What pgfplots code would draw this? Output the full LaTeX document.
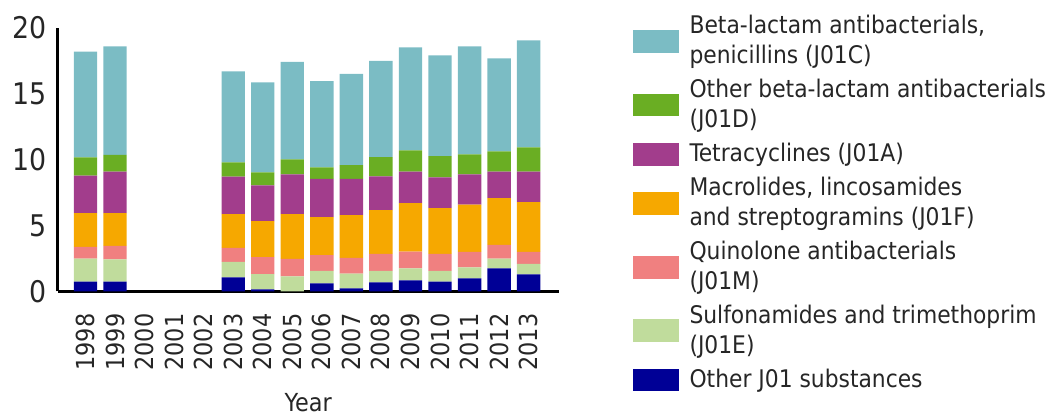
\documentclass[border=0pt]{standalone}
\usepackage{pgfplots}
\pgfplotsset{compat=1.18}
\usepackage{fontspec}
\setmainfont{DejaVu Sans Condensed}
\definecolor{cTeal}{HTML}{7BBCC4}
\definecolor{cGreen}{HTML}{6AAE23}
\definecolor{cPurple}{HTML}{A23D8C}
\definecolor{cOrange}{HTML}{F6A800}
\definecolor{cPink}{HTML}{F08080}
\definecolor{cLGreen}{HTML}{C0DC9C}
\definecolor{cNavy}{HTML}{000096}
\begin{document}
\fontsize{12.5}{15}\selectfont
\begin{tikzpicture}
\begin{axis}[
  at={(0,0)}, anchor=south west,
  scale only axis, width=252pt, height=132.5pt,
  ybar stacked, bar width=11.75pt,
  xmin=-0.94, xmax=16.02, ymin=0, ymax=20,
  xtick={0,...,15},
  xticklabels={1998,1999,2000,2001,2002,2003,2004,2005,2006,2007,2008,2009,2010,2011,2012,2013},
  ytick={0,5,10,15,20},
  major tick length=0pt,
  axis x line*=bottom, axis y line*=left,
  axis line style={line width=1.5pt, black, -},
  /pgf/number format/assume math mode=true,
  tick label style={text=black!85},
  yticklabel style={anchor=east, inner sep=0pt, xshift=-5.5pt, font=\fontsize{15}{18}\selectfont},
  xticklabel style={rotate=90, anchor=east, inner sep=0pt},
  xticklabel shift=11pt,
  xlabel={Year},
  xlabel style={at={(axis description cs:0.5,0)}, anchor=center, inner sep=0pt, yshift=-56pt, text=black!85},
  legend cell align=left,
  reverse legend,
  legend image code/.code={\fill[#1, draw=none] (0pt,-5.75pt) rectangle (23pt,5.75pt); \path (28.5pt,0pt);},
  legend style={draw=none, fill=none, at={(1.147,1.049)}, anchor=north west, inner sep=0pt, row sep=5.9pt,
    font=\fontsize{12.2}{15}\selectfont,
    cells={align=left},
    nodes={inner sep=0pt, text=black!85}},
]
\addplot[fill=cNavy, draw=none] coordinates {(0,0.73) (1,0.73) (5,1.06) (6,0.15) (7,0) (8,0.60) (9,0.23) (10,0.68) (11,0.83) (12,0.73) (13,0.98) (14,1.74) (15,1.28)};
\addlegendentry{Other J01 substances}
\addplot[fill=cLGreen, draw=none] coordinates {(0,1.76) (1,1.69) (5,1.18) (6,1.16) (7,1.13) (8,0.96) (9,1.11) (10,0.88) (11,0.91) (12,0.83) (13,0.83) (14,0.75) (15,0.81)};
\addlegendentry{{Sulfonamides and trimethoprim\\(J01E)}}
\addplot[fill=cPink, draw=none] coordinates {(0,0.88) (1,1.03) (5,1.06) (6,1.28) (7,1.34) (8,1.18) (9,1.20) (10,1.28) (11,1.28) (12,1.28) (13,1.18) (14,1.03) (15,0.90)};
\addlegendentry{{Quinolone antibacterials\\(J01M)}}
\addplot[fill=cOrange, draw=none] coordinates {(0,2.57) (1,2.49) (5,2.56) (6,2.74) (7,3.39) (8,2.90) (9,3.25) (10,3.33) (11,3.67) (12,3.47) (13,3.60) (14,3.55) (15,3.78)};
\addlegendentry{{Macrolides, lincosamides\\and streptogramins (J01F)}}
\addplot[fill=cPurple, draw=none] coordinates {(0,2.84) (1,3.14) (5,2.84) (6,2.72) (7,3.02) (8,2.89) (9,2.74) (10,2.56) (11,2.39) (12,2.34) (13,2.29) (14,2.01) (15,2.31)};
\addlegendentry{Tetracyclines (J01A)}
\addplot[fill=cGreen, draw=none] coordinates {(0,1.39) (1,1.28) (5,1.09) (6,0.98) (7,1.14) (8,0.88) (9,1.05) (10,1.46) (11,1.61) (12,1.61) (13,1.51) (14,1.54) (15,1.84)};
\addlegendentry{{Other beta-lactam antibacterials\\(J01D)}}
\addplot[fill=cTeal, draw=none] coordinates {(0,8.03) (1,8.24) (5,6.91) (6,6.84) (7,7.39) (8,6.54) (9,6.92) (10,7.30) (11,7.82) (12,7.65) (13,8.20) (14,7.06) (15,8.12)};
\addlegendentry{{Beta-lactam antibacterials,\\penicillins (J01C)}}
\end{axis}
\path[use as bounding box] (-29pt,-62pt) rectangle (494pt,146.5pt);
\end{tikzpicture}
\end{document}
